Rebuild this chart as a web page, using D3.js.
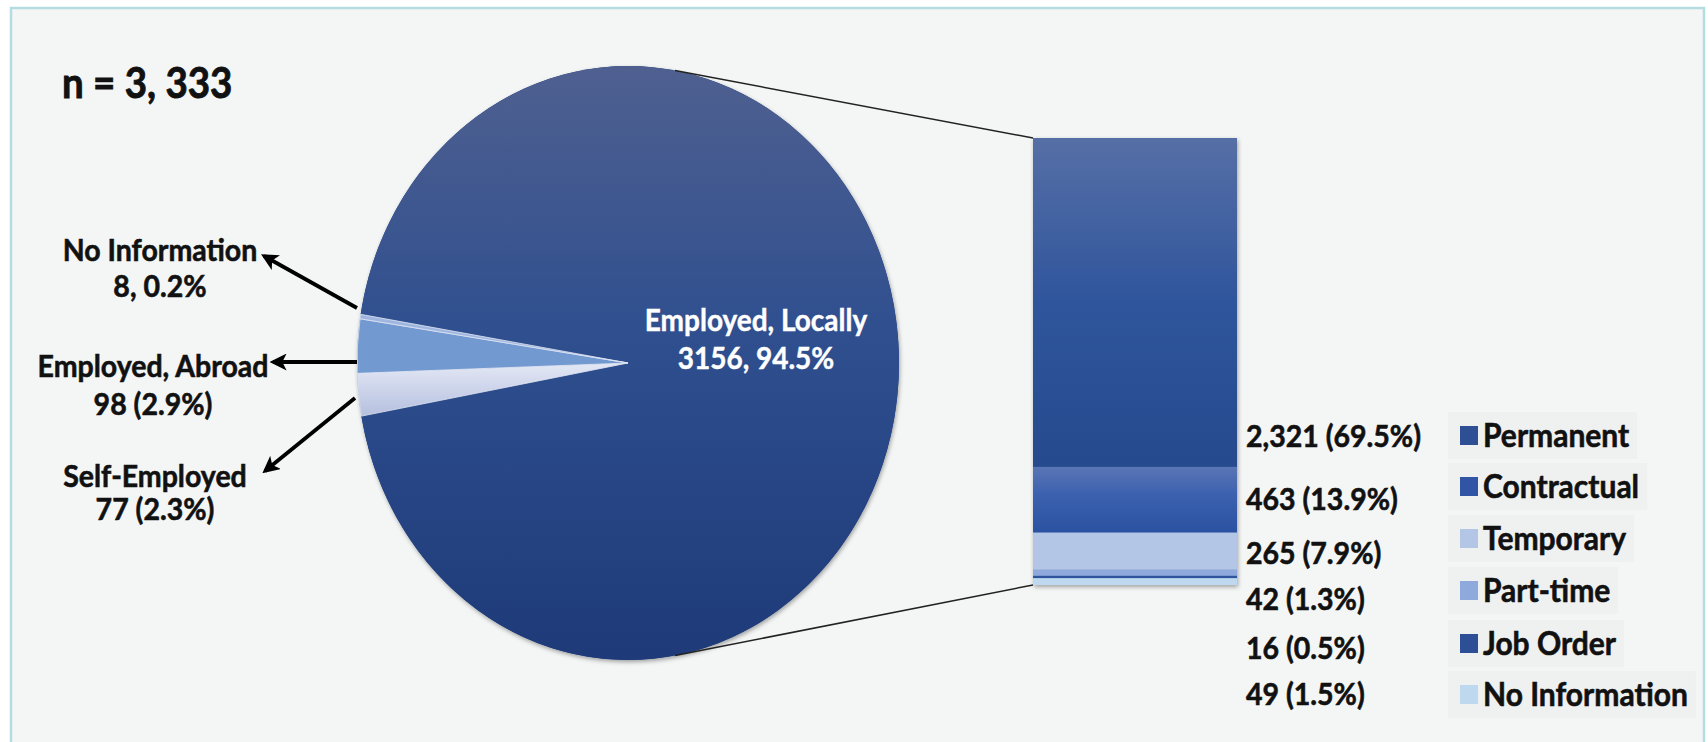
<!DOCTYPE html>
<html>
<head>
<meta charset="utf-8">
<script src="https://cdn.jsdelivr.net/npm/d3@7"></script>
<style>
  html, body { margin: 0; padding: 0; background: #ffffff; }
  svg { display: block; }
  text { font-family: Lato, "Open Sans", "DejaVu Sans", sans-serif; font-weight: 700; }
</style>
</head>
<body>
<svg id="chart" width="1708" height="742"></svg>
<script>
// ---------- data ----------
const nLabel = "n = 3, 333";
const pieCategories = ["Employed, Locally", "Self-Employed", "Employed, Abroad", "No Information"];
const pieValues = [3156, 77, 98, 8];
const pieValueLabels = ["3156, 94.5%", "77 (2.3%)", "98 (2.9%)", "8, 0.2%"];
const barCategories = ["Permanent", "Contractual", "Temporary", "Part-time", "Job Order", "No Information"];
const barValues = [2321, 463, 265, 42, 16, 49];
const barValueLabels = ["2,321 (69.5%)", "463 (13.9%)", "265 (7.9%)", "42 (1.3%)", "16 (0.5%)", "49 (1.5%)"];

// ---------- layout / style ----------
const cx = 628, cy = 363, rx = 271, ry = 297;
const bar = { x0: 1033, x1: 1237, top: 138, bottom: 585 };
const barLabelX = 1246;
const barLabelY = [435, 498, 552, 598, 647, 693];
const legendY = [435, 486, 538, 590, 643, 694];
const legendSquareX = 1460, legendTextX = 1483;
const legendColors = ["#2f4f94", "#2f55a4", "#b3c6e6", "#8fa9dc", "#2d4f96", "#bdd8ef"];
const barFills = ["url(#gPerm)", "url(#gContr)", "#b3c6e6", "#8fa9dc", "#2d549c", "#bdd8ef"];
const pieFills = ["url(#gLocal)", "url(#gSelf)", "#7399d1", "#9fb6e0"];
const leftLabels = [
  { i: 3, x: 160, y1: 249, y2: 285, tail: [357, 308], tip: [264, 256] },
  { i: 2, x: 153, y1: 365, y2: 403, tail: [357, 362], tip: [273, 362] },
  { i: 1, x: 155, y1: 475, y2: 508, tail: [355, 398], tip: [265, 471] }
];
const SY = 1.08; // slight vertical stretch of the glyphs, as in the reference

const svg = d3.select("#chart");
const defs = svg.append("defs");

function txt(x, y, s, size, opts = {}) {
  return svg.append("text")
    .attr("transform", `translate(${x},${y}) scale(1,${SY})`)
    .attr("text-anchor", opts.anchor || "start")
    .attr("dominant-baseline", "central")
    .attr("font-size", size)
    .attr("fill", opts.fill || "#111")
    .attr("stroke", opts.fill || "#111")
    .attr("stroke-width", opts.sw === undefined ? 0.55 : opts.sw)
    .text(s);
}

function vGrad(id, stops) {
  const g = defs.append("linearGradient").attr("id", id)
    .attr("x1", 0).attr("y1", 0).attr("x2", 0).attr("y2", 1);
  stops.forEach(([o, c]) => g.append("stop").attr("offset", o).attr("stop-color", c));
}
vGrad("gLocal", [[0, "#4f6090"], [0.45, "#2f4f8f"], [1, "#1e3a78"]]);
vGrad("gSelf", [[0, "#e4e8f5"], [1, "#b5c0df"]]);
vGrad("gPerm", [[0, "#566fa6"], [0.5, "#2f559c"], [1, "#254a8d"]]);
vGrad("gContr", [[0, "#5a75b5"], [0.45, "#3a60ae"], [1, "#2b52a0"]]);

const shadow = defs.append("filter").attr("id", "shadow")
  .attr("x", "-10%").attr("y", "-10%").attr("width", "120%").attr("height", "120%");
shadow.append("feDropShadow").attr("dx", 1).attr("dy", 2).attr("stdDeviation", 2)
  .attr("flood-color", "#000").attr("flood-opacity", 0.35);

const marker = defs.append("marker").attr("id", "arrow")
  .attr("viewBox", "0 0 10 10").attr("refX", 8).attr("refY", 5)
  .attr("markerUnits", "userSpaceOnUse").attr("markerWidth", 17).attr("markerHeight", 17)
  .attr("orient", "auto-start-reverse");
marker.append("path").attr("d", "M0,0 L10,5 L0,10 L2.5,5 Z").attr("fill", "#000");

// background panel
svg.append("rect").attr("x", 11).attr("y", 8).attr("width", 1693).attr("height", 760)
  .attr("fill", "#f4f6f5").attr("stroke", "#b5dde1").attr("stroke-width", 2.5);

// n label
txt(62, 82, nLabel, 38.5, { sw: 0.8 });

// ---------- pie ----------
const total = d3.sum(pieValues);
const boundary = 3 * Math.PI / 2 - 2 * Math.PI / 180; // end of Self-Employed slice, just below horizontal-left
const start = boundary - 2 * Math.PI * (pieValues[0] + pieValues[1]) / total;
const pie = d3.pie().sort(null).startAngle(start).endAngle(start + 2 * Math.PI)(pieValues);
const arc = d3.arc().innerRadius(0).outerRadius(rx);

const pg = svg.append("g").attr("transform", `translate(${cx},${cy}) scale(1,${ry / rx})`);
pg.append("circle").attr("r", rx).attr("fill", "#1e3a78").attr("filter", "url(#shadow)");
pg.selectAll("path.slice").data(pie).join("path").attr("class", "slice")
  .attr("d", arc)
  .attr("fill", (d, i) => pieFills[i])
  .attr("stroke", (d, i) => i === 0 ? "none" : "#dfe5f3")
  .attr("stroke-width", (d, i) => i === 0 ? 0 : 0.8);

txt(cx + 128, cy - 44, pieCategories[0], 28, { anchor: "middle", fill: "#ffffff", sw: 0.4 });
txt(cx + 128, cy - 6, pieValueLabels[0], 28, { anchor: "middle", fill: "#ffffff", sw: 0.4 });

// left labels with arrows
leftLabels.forEach(l => {
  txt(l.x, l.y1, pieCategories[l.i], 28.5, { anchor: "middle" });
  txt(l.x, l.y2, pieValueLabels[l.i], 28.5, { anchor: "middle" });
  svg.append("line").attr("x1", l.tail[0]).attr("y1", l.tail[1]).attr("x2", l.tip[0]).attr("y2", l.tip[1])
    .attr("stroke", "#000").attr("stroke-width", 3.8).attr("marker-end", "url(#arrow)");
});

// ---------- connector lines ----------
const connAngle = 10 * Math.PI / 180;
const pTop = [cx + rx * Math.sin(connAngle), cy - ry * Math.cos(connAngle)];
const pBot = [cx + rx * Math.sin(connAngle), cy + ry * Math.cos(connAngle)];
svg.append("line").attr("x1", pTop[0]).attr("y1", pTop[1]).attr("x2", bar.x0).attr("y2", bar.top)
  .attr("stroke", "#222").attr("stroke-width", 1.5);
svg.append("line").attr("x1", pBot[0]).attr("y1", pBot[1]).attr("x2", bar.x0).attr("y2", bar.bottom)
  .attr("stroke", "#222").attr("stroke-width", 1.5);

// ---------- stacked bar ----------
const barTotal = d3.sum(barValues);
const y = d3.scaleLinear().domain([0, barTotal]).range([bar.bottom, bar.top]);
const order = barValues.map((v, i) => i).reverse(); // last category sits at the bottom
let acc = 0;
const segs = order.map(i => { const s = { i, y0: acc, y1: acc + barValues[i] }; acc += barValues[i]; return s; });

const bg = svg.append("g");
bg.append("rect").attr("x", bar.x0).attr("y", bar.top).attr("width", bar.x1 - bar.x0)
  .attr("height", bar.bottom - bar.top).attr("fill", "#2f559c").attr("filter", "url(#shadow)");
bg.selectAll("rect.seg").data(segs).join("rect").attr("class", "seg")
  .attr("x", bar.x0).attr("width", bar.x1 - bar.x0)
  .attr("y", d => y(d.y1)).attr("height", d => y(d.y0) - y(d.y1))
  .attr("fill", d => barFills[d.i]);

// value labels
barValueLabels.forEach((s, i) => txt(barLabelX, barLabelY[i], s, 28.5));

// legend
const lg = svg.append("g");
barCategories.forEach((c, i) => {
  const box = lg.append("rect");
  const t = txt(legendTextX, legendY[i], c, 30);
  const w = t.node().getComputedTextLength();
  box.attr("x", legendSquareX - 12).attr("y", legendY[i] - 23)
    .attr("width", legendTextX - legendSquareX + w + 20).attr("height", 47)
    .attr("fill", "#e9e9e9").attr("opacity", 0.4);
  lg.append("rect").attr("x", legendSquareX).attr("y", legendY[i] - 9)
    .attr("width", 18).attr("height", 19).attr("fill", legendColors[i]);
});
</script>
</body>
</html>
